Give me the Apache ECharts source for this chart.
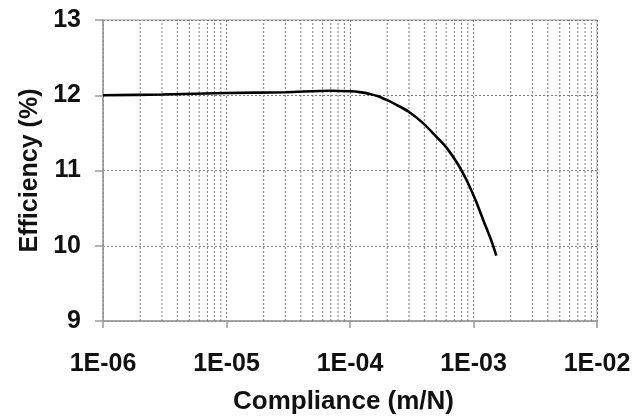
<!DOCTYPE html>
<html>
<head>
<meta charset="utf-8">
<script src="https://cdn.jsdelivr.net/npm/echarts@6/dist/echarts.min.js"></script>
<style>html,body{margin:0;padding:0;background:#fff}#c{width:640px;height:420px}</style>
</head>
<body>
<div id="c"></div>
<script>
// Compliance (m/N) values
const compliance = [1e-6, 3e-6, 1e-5, 3e-5, 7e-5, 1e-4, 1.2e-4, 1.45e-4, 1.69e-4, 1.98e-4, 2.4e-4, 2.97e-4, 3.9e-4, 5e-4, 6.07e-4, 7.5e-4, 8.8e-4, 1.03e-3, 1.2e-3, 1.4e-3, 1.53e-3];
// Efficiency (%) values
const efficiency = [12.00, 12.01, 12.03, 12.04, 12.06, 12.053, 12.042, 12.018, 11.987, 11.938, 11.870, 11.784, 11.63, 11.45, 11.30, 11.08, 10.87, 10.62, 10.34, 10.06, 9.87];
const xTickLabels = ['1E-06', '1E-05', '1E-04', '1E-03', '1E-02'];
const yTickLabels = ['9', '10', '11', '12', '13'];
const decades = [1e-6, 1e-5, 1e-4, 1e-3];
const minorMultipliers = [2, 3, 4, 5, 6, 7, 8, 9];
const yMin = 9, yMax = 13;

// minor (2..9 x decade) vertical grid lines, as a gapped line series
const minorGrid = [];
decades.forEach(d => minorMultipliers.forEach(m => {
  minorGrid.push([d * m, yMin], [d * m, yMax], [d * m, '-']);
}));

const FONT = '"Liberation Sans", Arial, sans-serif';
const GRID_COLOR = '#7a7a7a';
const AXIS_COLOR = '#9a9a9a';

const chart = echarts.init(document.getElementById('c'), null, {renderer: 'canvas'});
chart.setOption({
  animation: false,
  backgroundColor: '#fff',
  grid: {left: 103, right: 43, top: 20, bottom: 96, show: true, borderColor: AXIS_COLOR, borderWidth: 1},
  xAxis: {
    type: 'log', logBase: 10, min: 1e-6, max: 1e-2,
    name: 'Compliance (m/N)', nameLocation: 'middle', nameGap: 68,
    nameTextStyle: {fontFamily: FONT, fontWeight: 'bold', fontSize: 26, color: '#111', padding: [0, 13, 0, 0]},
    axisLine: {show: true, lineStyle: {color: AXIS_COLOR, width: 1.5}},
    axisTick: {show: true, length: 7, lineStyle: {color: AXIS_COLOR, width: 1.5}},
    minorTick: {show: false},
    axisLabel: {
      margin: 31, fontFamily: FONT, fontWeight: 'bold', fontSize: 25, color: '#111',
      formatter: v => xTickLabels[Math.round(Math.log10(v)) + 6] || ''
    },
    splitLine: {show: true, lineStyle: {color: GRID_COLOR, type: [2, 2], width: 1}}
  },
  yAxis: {
    type: 'value', min: yMin, max: yMax, interval: 1,
    name: 'Efficiency (%)', nameLocation: 'middle', nameGap: 53, nameRotate: 90,
    nameTextStyle: {fontFamily: FONT, fontWeight: 'bold', fontSize: 25, color: '#111'},
    axisLine: {show: true, lineStyle: {color: AXIS_COLOR, width: 1.5}},
    axisTick: {show: true, length: 8, lineStyle: {color: AXIS_COLOR, width: 1.5}},
    axisLabel: {
      margin: 22, fontFamily: FONT, fontWeight: 'bold', fontSize: 25, color: '#111',
      formatter: v => yTickLabels[Math.round(v) - 9] || ''
    },
    splitLine: {show: true, lineStyle: {color: GRID_COLOR, type: [2, 2], width: 1}}
  },
  series: [
    {
      type: 'line', z: 0, silent: true,
      data: minorGrid, connectNulls: false,
      showSymbol: false, symbol: 'none',
      lineStyle: {color: GRID_COLOR, type: [2, 2], width: 1},
      emphasis: {disabled: true}
    },
    {
      type: 'line', zlevel: 1, z: 10,
      data: compliance.map((c, i) => [c, efficiency[i]]),
      smooth: 0.3, showSymbol: false, symbol: 'none',
      lineStyle: {color: '#000', width: 2.6}
    }
  ]
});
</script>
</body>
</html>
